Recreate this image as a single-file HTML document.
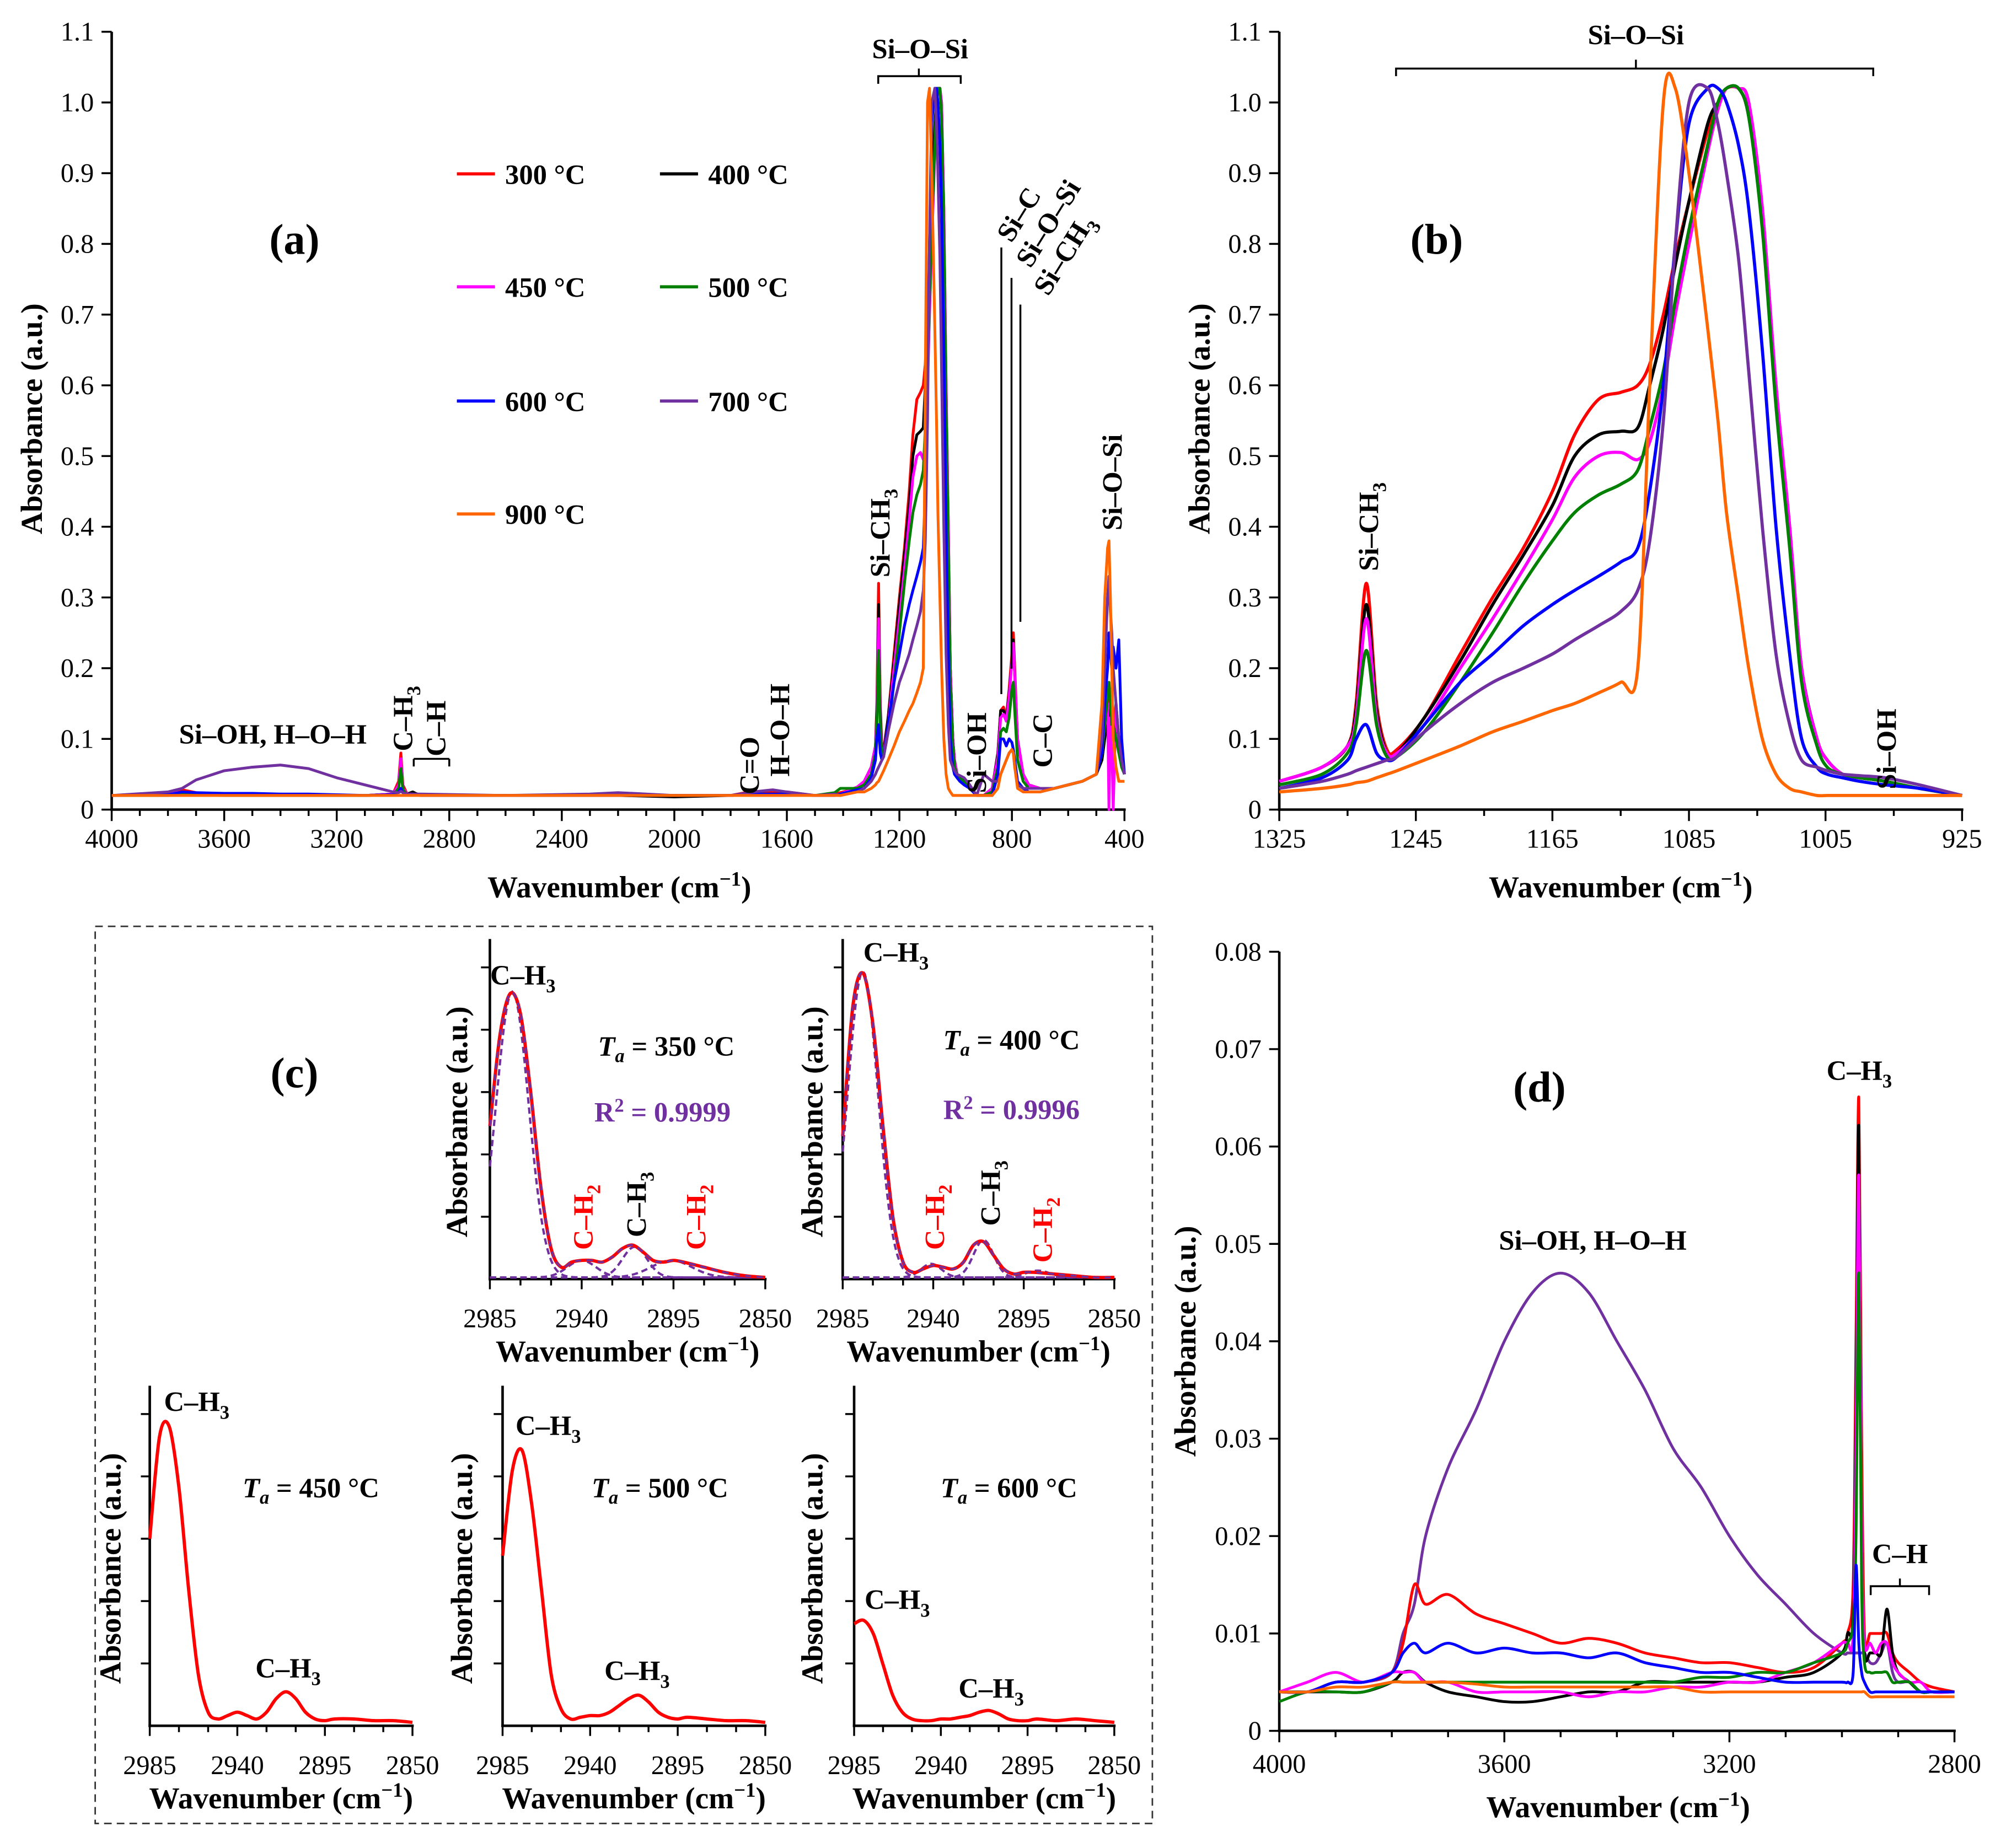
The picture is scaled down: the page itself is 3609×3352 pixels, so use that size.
<!DOCTYPE html>
<html><head><meta charset="utf-8"><style>
html,body{margin:0;padding:0;background:#fff}
svg{display:block}
text{font-family:"Liberation Serif",serif;fill:#000}
.b{font-weight:bold}
.tk{font-size:21px}
.tt{font-size:24px;font-weight:bold}
.an{font-size:22px;font-weight:bold}
</style></head><body>
<svg id="fig" xmlns="http://www.w3.org/2000/svg" width="3609" height="3352" viewBox="0 0 1568 1456.3">
<rect x="0" y="0" width="1568" height="1457" fill="#fff"/>
<g id="axes"></g>
<g id="marks"></g>
<g id="labels">
<text class="tt" x="488" y="707" text-anchor="middle">Wavenumber (cm<tspan dy="-9" font-size="16">−1</tspan><tspan dy="9">)</tspan></text>
<text class="tt" transform="translate(33,330) rotate(-90)" text-anchor="middle">Absorbance (a.u.)</text>
<text x="232" y="200" font-size="34" class="b" text-anchor="middle">(a)</text>
<text class="an" x="725" y="46" text-anchor="middle">Si–O–Si</text>
<path d="M692,66 V60 H757 V66 M724,60 V54" fill="none" stroke="#000" stroke-width="1.5"/>
<text class="an" x="215" y="586" text-anchor="middle">Si–OH, H–O–H</text>
<text class="an" transform="translate(325,592) rotate(-90)">C–H<tspan dy="6" font-size="15">3</tspan></text>
<text class="an" transform="translate(351,596) rotate(-90)">C–H</text>
<path d="M326,598 H354 M326,598 V604 M354,598 V604" fill="none" stroke="#000" stroke-width="1.5"/>
<text class="an" transform="translate(598,626) rotate(-90)">C=O</text>
<text class="an" transform="translate(622,612) rotate(-90)">H–O–H</text>
<text class="an" transform="translate(701,455) rotate(-90)">Si–CH<tspan dy="6" font-size="15">3</tspan></text>
<text class="an" transform="translate(777,625) rotate(-90)">Si–OH</text>
<text class="an" transform="translate(829,605) rotate(-90)">C–C</text>
<text class="an" transform="translate(884,418) rotate(-90)">Si–O–Si</text>
<text class="an" transform="translate(797,192) rotate(-58)">Si–C</text>
<text class="an" transform="translate(812,212) rotate(-58)">Si–O–Si</text>
<text class="an" transform="translate(826,234) rotate(-58)">Si–CH<tspan dy="6" font-size="15">3</tspan></text>
<path d="M789,195 V547 M797,219 V527 M804,240 V490" stroke="#000" stroke-width="1.5"/>
<text class="tt" x="1277" y="707" text-anchor="middle">Wavenumber (cm<tspan dy="-9" font-size="16">−1</tspan><tspan dy="9">)</tspan></text>
<text class="tt" transform="translate(953,330) rotate(-90)" text-anchor="middle">Absorbance (a.u.)</text>
<text x="1132" y="200" font-size="34" class="b" text-anchor="middle">(b)</text>
<text class="an" x="1289" y="35" text-anchor="middle">Si–O–Si</text>
<path d="M1100,60 V54 H1476 V60 M1289,54 V47" fill="none" stroke="#000" stroke-width="1.5"/>
<text class="an" transform="translate(1086,450) rotate(-90)">Si–CH<tspan dy="6" font-size="15">3</tspan></text>
<text class="an" transform="translate(1494,622) rotate(-90)">Si–OH</text>
<rect x="75" y="730" width="833" height="707" fill="none" stroke="#333" stroke-width="1.2" stroke-dasharray="6,4"/>
<text x="232" y="857" font-size="34" class="b" text-anchor="middle">(c)</text>
<text class="an" x="525" y="832" text-anchor="middle"><tspan font-style="italic">T</tspan><tspan dy="5" font-size="15" font-style="italic">a</tspan><tspan dy="-5"> = 350 °C</tspan></text>
<text class="an" x="522" y="884" text-anchor="middle" style="fill:#7030a0">R<tspan dy="-8" font-size="15">2</tspan><tspan dy="8"> = 0.9999</tspan></text>
<text class="an" x="797" y="827" text-anchor="middle"><tspan font-style="italic">T</tspan><tspan dy="5" font-size="15" font-style="italic">a</tspan><tspan dy="-5"> = 400 °C</tspan></text>
<text class="an" x="797" y="882" text-anchor="middle" style="fill:#7030a0">R<tspan dy="-8" font-size="15">2</tspan><tspan dy="8"> = 0.9996</tspan></text>
<text class="an" x="412" y="776" text-anchor="middle">C–H<tspan dy="6" font-size="15">3</tspan></text>
<text class="an" x="706" y="758" text-anchor="middle">C–H<tspan dy="6" font-size="15">3</tspan></text>
<text class="an" transform="translate(467,985) rotate(-90)" style="fill:#ff0000">C–H<tspan dy="6" font-size="15" style="fill:#ff0000">2</tspan></text>
<text class="an" transform="translate(509,975) rotate(-90)">C–H<tspan dy="6" font-size="15">3</tspan></text>
<text class="an" transform="translate(556,985) rotate(-90)" style="fill:#ff0000">C–H<tspan dy="6" font-size="15" style="fill:#ff0000">2</tspan></text>
<text class="an" transform="translate(744,985) rotate(-90)" style="fill:#ff0000">C–H<tspan dy="6" font-size="15" style="fill:#ff0000">2</tspan></text>
<text class="an" transform="translate(788,966) rotate(-90)">C–H<tspan dy="6" font-size="15">3</tspan></text>
<text class="an" transform="translate(829,995) rotate(-90)" style="fill:#ff0000">C–H<tspan dy="6" font-size="15" style="fill:#ff0000">2</tspan></text>
<text class="an" x="155" y="1112" text-anchor="middle">C–H<tspan dy="6" font-size="15">3</tspan></text>
<text class="an" x="245" y="1180" text-anchor="middle"><tspan font-style="italic">T</tspan><tspan dy="5" font-size="15" font-style="italic">a</tspan><tspan dy="-5"> = 450 °C</tspan></text>
<text class="an" x="227" y="1322" text-anchor="middle">C–H<tspan dy="6" font-size="15">3</tspan></text>
<text class="an" x="432" y="1131" text-anchor="middle">C–H<tspan dy="6" font-size="15">3</tspan></text>
<text class="an" x="520" y="1180" text-anchor="middle"><tspan font-style="italic">T</tspan><tspan dy="5" font-size="15" font-style="italic">a</tspan><tspan dy="-5"> = 500 °C</tspan></text>
<text class="an" x="502" y="1324" text-anchor="middle">C–H<tspan dy="6" font-size="15">3</tspan></text>
<text class="an" x="707" y="1268" text-anchor="middle">C–H<tspan dy="6" font-size="15">3</tspan></text>
<text class="an" x="795" y="1180" text-anchor="middle"><tspan font-style="italic">T</tspan><tspan dy="5" font-size="15" font-style="italic">a</tspan><tspan dy="-5"> = 600 °C</tspan></text>
<text class="an" x="781" y="1338" text-anchor="middle">C–H<tspan dy="6" font-size="15">3</tspan></text>
<text class="tt" x="1275" y="1432" text-anchor="middle">Wavenumber (cm<tspan dy="-9" font-size="16">−1</tspan><tspan dy="9">)</tspan></text>
<text class="tt" transform="translate(942,1057) rotate(-90)" text-anchor="middle">Absorbance (a.u.)</text>
<text x="1213" y="868" font-size="34" class="b" text-anchor="middle">(d)</text>
<text class="an" x="1465" y="851" text-anchor="middle">C–H<tspan dy="6" font-size="15">3</tspan></text>
<text class="an" x="1255" y="985" text-anchor="middle">Si–OH, H–O–H</text>
<text class="an" x="1497" y="1232" text-anchor="middle">C–H</text>
<path d="M1474,1257 V1250 H1520 V1257 M1497,1250 V1244" fill="none" stroke="#000" stroke-width="1.5"/>
</g>
<g id="legend"></g>
</svg>
<script>
const seriesNames = ["300 °C","400 °C","450 °C","500 °C","600 °C","700 °C","900 °C"];
const seriesColors = ["#ff0000","#000000","#ff00ff","#008000","#0000ff","#7030a0","#ff6600"];

const lowWn = [4000,3800,3750,3700,3600,3500,3400,3300,3200,3100,3000,2980,2972,2965,2950,2930,2920,2900,2600,2300,2200,2000,1800,1720,1650,1600,1500,1430,1410,1350];
const lowRed = [.02,.022,.028,.024,.022,.021,.02,.02,.02,.02,.022,.04,.08,.035,.022,.025,.023,.02,.02,.02,.02,.02,.02,.026,.024,.025,.02,.022,.024,.03];
const lowBlack = [.02,.021,.024,.022,.021,.02,.02,.02,.02,.02,.022,.035,.07,.03,.022,.025,.023,.02,.02,.02,.02,.018,.02,.022,.022,.022,.02,.02,.022,.03];
const lowMagenta = [.02,.022,.025,.022,.021,.02,.02,.02,.02,.02,.022,.035,.072,.03,.022,.022,.021,.02,.02,.02,.02,.02,.02,.022,.022,.022,.02,.02,.022,.032];
const lowGreen = [.02,.02,.022,.021,.02,.02,.02,.02,.02,.02,.021,.03,.058,.028,.021,.021,.021,.02,.02,.02,.02,.02,.02,.022,.022,.022,.02,.024,.03,.03];
const lowBlue = [.02,.021,.025,.024,.023,.023,.022,.022,.021,.02,.021,.025,.03,.024,.021,.021,.021,.02,.02,.02,.02,.02,.02,.022,.022,.022,.02,.02,.022,.028];
const lowPurple = [.02,.025,.03,.042,.055,.06,.063,.058,.045,.035,.025,.024,.026,.024,.022,.022,.022,.022,.02,.022,.024,.02,.02,.025,.028,.025,.02,.022,.02,.025];
const lowOrange = [.02,.02,.02,.02,.02,.02,.02,.02,.02,.02,.02,.02,.02,.02,.02,.02,.02,.02,.02,.02,.02,.02,.02,.02,.02,.02,.02,.02,.02,.025];

const bWn = [1325,1300,1285,1280,1274,1268,1262,1256,1240,1219,1200,1182,1165,1152,1138,1125,1115,1108,1100,1093,1085,1074,1068,1063,1056,1050,1042,1034,1026,1019,1010,1004,995,985,970,950,925];
const bRed = [.04,.06,.09,.15,.32,.15,.085,.085,.13,.22,.3,.37,.45,.53,.58,.59,.6,.63,.7,.78,.86,.96,1.0,1.02,1.02,1.0,.85,.6,.4,.2,.1,.07,.05,.045,.04,.03,.02];
const bBlack = [.04,.06,.09,.14,.29,.14,.08,.08,.13,.21,.29,.36,.43,.5,.53,.535,.54,.6,.68,.77,.86,.97,1.0,1.02,1.02,.98,.83,.58,.38,.2,.1,.07,.05,.045,.04,.03,.02];
const bMagenta = [.04,.06,.09,.13,.27,.13,.08,.08,.12,.2,.27,.34,.41,.47,.5,.505,.495,.52,.6,.7,.8,.93,.99,1.02,1.02,1.0,.85,.6,.4,.2,.1,.07,.05,.045,.04,.03,.02];
const bGreen = [.035,.05,.08,.12,.225,.12,.075,.075,.11,.18,.25,.32,.38,.42,.445,.46,.48,.54,.62,.72,.82,.94,1.0,1.02,1.02,.98,.82,.57,.37,.18,.09,.06,.05,.045,.04,.03,.02];
const bBlue = [.03,.045,.07,.1,.12,.08,.07,.075,.12,.18,.22,.26,.29,.31,.33,.35,.37,.45,.6,.8,.97,1.02,1.02,1.0,.94,.85,.65,.4,.22,.1,.06,.05,.045,.04,.035,.03,.02];
const bPurple = [.03,.04,.05,.055,.06,.065,.07,.075,.11,.15,.18,.2,.22,.24,.26,.28,.31,.38,.55,.8,1.0,1.02,.97,.9,.78,.62,.4,.22,.12,.07,.06,.055,.05,.048,.045,.035,.02];
const bOrange = [.025,.03,.035,.038,.04,.045,.05,.055,.07,.09,.11,.125,.14,.15,.165,.18,.2,.6,1.0,1.02,.9,.68,.55,.42,.3,.2,.1,.05,.03,.025,.02,.02,.02,.02,.02,.02,.02];

const highWn = [900,870,850,840,830,820,810,800,795,790,780,760,740,700,650,600,550,500,480,470,460,455,450,445,440,430,420,410,400];
const highRed = [.02,.03,.08,.14,.145,.13,.17,.22,.25,.2,.1,.05,.035,.03,.03,.035,.04,.05,.08,.12,.15,.16,.13,.1,.12,.15,.1,.08,.05];
const highBlack = [.02,.03,.08,.14,.14,.13,.165,.21,.24,.19,.1,.05,.035,.03,.03,.035,.04,.05,.07,.1,.13,.14,.12,.1,.11,.13,.1,.08,.05];
const highMagenta = [.02,.03,.075,.13,.135,.125,.16,.21,.235,.19,.1,.05,.035,.03,.03,.035,.04,.05,.08,.12,.15,0,.13,.1,0,.15,.1,.08,.05];
const highGreen = [.02,.025,.06,.11,.115,.11,.13,.17,.18,.14,.07,.04,.03,.03,.03,.035,.04,.05,.08,.12,.16,.18,.15,.12,.12,.1,.08,.06,.05];
const highBlue = [.02,.02,.05,.1,.1,.09,.1,.095,.085,.07,.04,.03,.025,.025,.03,.035,.04,.05,.08,.15,.2,.25,.22,.2,.23,.2,.24,.1,.05];
const highPurple = [.05,.04,.04,.05,.06,.07,.08,.085,.08,.06,.035,.03,.03,.03,.03,.035,.04,.05,.1,.2,.3,.33,.28,.25,.2,.15,.1,.07,.05];
const highOrange = [.02,.02,.03,.05,.06,.07,.08,.085,.08,.06,.03,.025,.025,.025,.03,.035,.04,.05,.15,.3,.37,.38,.3,.2,.1,.06,.04,.04,.04];

const cWn = [2985,2980,2975,2970,2965,2960,2955,2950,2945,2940,2935,2930,2925,2920,2915,2910,2905,2900,2895,2890,2880,2870,2860,2850];
const c350 = [.45,.72,.84,.78,.55,.27,.09,.035,.05,.055,.055,.05,.065,.09,.1,.08,.055,.05,.055,.05,.035,.02,.01,.005];
const c400 = [.42,.8,.9,.75,.45,.18,.05,.02,.03,.04,.035,.03,.05,.1,.11,.07,.03,.015,.02,.02,.015,.01,.005,.005];
const c450 = [.55,.85,.88,.7,.4,.15,.04,.02,.03,.04,.03,.02,.04,.08,.1,.08,.04,.02,.015,.02,.02,.015,.015,.01];
const c500 = [.5,.75,.81,.65,.4,.15,.05,.02,.025,.03,.03,.04,.06,.08,.09,.07,.04,.025,.02,.025,.02,.015,.015,.01];
const c600 = [.3,.31,.27,.18,.09,.04,.02,.015,.015,.02,.02,.025,.03,.04,.045,.035,.02,.015,.015,.02,.015,.02,.015,.01];
const fit350Centers = [2974,2940,2914,2896];
const fit350Amps = [.84,.05,.09,.05];
const fit350Widths = [8,7,6,10];
const fit400Centers = [2975,2941,2915,2888];
const fit400Amps = [.9,.04,.11,.02];
const fit400Widths = [7.5,5,5,6];

const dWn = [4000,3950,3900,3850,3800,3780,3760,3740,3700,3650,3600,3550,3500,3450,3400,3350,3300,3250,3200,3150,3100,3050,3000,2990,2980,2975,2970,2965,2960,2950,2940,2930,2920,2910,2900,2880,2860,2840,2800];
const dRed = [.004,.004,.005,.005,.006,.009,.015,.013,.014,.012,.011,.01,.009,.0095,.009,.008,.0075,.007,.007,.0065,.006,.0065,.009,.01,.015,.04,.065,.03,.01,.01,.01,.01,.01,.008,.007,.006,.005,.0045,.004];
const dBlack = [.004,.004,.004,.004,.005,.006,.006,.005,.004,.0035,.003,.003,.0035,.004,.004,.005,.005,.005,.005,.005,.0055,.006,.008,.01,.012,.035,.062,.02,.008,.008,.008,.008,.0125,.008,.006,.005,.004,.004,.004];
const dMagenta = [.004,.005,.006,.005,.006,.006,.006,.005,.005,.004,.004,.004,.004,.0035,.004,.004,.0045,.0045,.005,.005,.006,.007,.009,.009,.01,.03,.057,.02,.009,.009,.008,.009,.009,.007,.006,.005,.005,.004,.004];
const dGreen = [.003,.004,.004,.004,.005,.005,.005,.005,.005,.005,.005,.005,.005,.005,.005,.005,.005,.0055,.0055,.006,.006,.007,.008,.009,.011,.02,.047,.015,.007,.006,.006,.006,.006,.005,.005,.005,.004,.004,.004];
const dBlue = [.004,.004,.005,.005,.006,.008,.009,.008,.009,.008,.0085,.008,.008,.0075,.008,.007,.0065,.006,.006,.0055,.005,.005,.005,.005,.006,.017,.009,.006,.005,.004,.004,.004,.004,.004,.004,.004,.004,.004,.004];
const dPurple = [.004,.004,.005,.005,.006,.01,.013,.02,.027,.033,.04,.045,.047,.045,.04,.035,.029,.025,.02,.016,.013,.01,.008,.008,.008,.008,.008,.008,.008,.007,.007,.008,.009,.006,.005,.005,.004,.004,.004];
const dOrange = [.004,.004,.0045,.0045,.005,.005,.005,.005,.005,.0048,.0045,.0045,.0045,.0045,.0045,.0045,.0045,.004,.004,.004,.004,.004,.004,.004,.004,.004,.004,.004,.004,.0035,.0035,.0035,.0035,.0035,.0035,.0035,.0035,.0035,.0035];

const aTicksY = ["0","0.1","0.2","0.3","0.4","0.5","0.6","0.7","0.8","0.9","1.0","1.1"];
const aTicksX = ["4000","3600","3200","2800","2400","2000","1600","1200","800","400"];
const bTicksX = ["1325","1245","1165","1085","1005","925"];
const cTicksX = ["2985","2940","2895","2850"];
const dTicksY = ["0","0.01","0.02","0.03","0.04","0.05","0.06","0.07","0.08"];
const dTicksX = ["4000","3600","3200","2800"];

const NS = "http://www.w3.org/2000/svg";
const axG = document.getElementById('axes');
const mkG = document.getElementById('marks');
const lgG = document.getElementById('legend');
const ax = w => 88 + (4000 - w) / 3600 * 798;
const ay = v => 638 - v / 1.1 * 613;
const bx = w => 1008 + (1325 - w) / 400 * 538;
const by = ay;
const dx = w => 1008 + (4000 - w) / 1200 * 532;
const dy = v => 1364 - v / 0.08 * 614;
const cPanels = [
  {x0:386,x1:603,yb:1008,yt:740},
  {x0:664,x1:878,yb:1008,yt:740},
  {x0:118,x1:325,yb:1360,yt:1092},
  {x0:396,x1:603,yb:1360,yt:1092},
  {x0:673,x1:878,yb:1360,yt:1092}
];
const cxF = p => w => p.x0 + (2985 - w) / 135 * (p.x1 - p.x0);
const cyF = p => v => p.yb - v * (p.yb - p.yt);

function el(tag, attrs, parent) {
  const e = document.createElementNS(NS, tag);
  for (const k in attrs) e.setAttribute(k, attrs[k]);
  parent.appendChild(e);
  return e;
}
function pathD(xs, ys, fx, fy) {
  let d = "";
  for (let i = 0; i < xs.length; i++) d += (i ? "L" : "M") + fx(xs[i]).toFixed(2) + "," + fy(ys[i]).toFixed(2);
  return d;
}
function smoothD(xs, ys, fx, fy) {
  const P = xs.map((x,i)=>[fx(x), fy(ys[i])]);
  let d = "M" + P[0][0].toFixed(2) + "," + P[0][1].toFixed(2);
  for (let i = 0; i < P.length - 1; i++) {
    const p0 = P[Math.max(0,i-1)], p1 = P[i], p2 = P[i+1], p3 = P[Math.min(P.length-1,i+2)];
    const t = 0.16;
    const c1 = [p1[0] + (p2[0]-p0[0])*t, p1[1] + (p2[1]-p0[1])*t];
    const c2 = [p2[0] - (p3[0]-p1[0])*t, p2[1] - (p3[1]-p1[1])*t];
    d += "C" + c1[0].toFixed(2)+","+c1[1].toFixed(2)+" "+c2[0].toFixed(2)+","+c2[1].toFixed(2)+" "+p2[0].toFixed(2)+","+p2[1].toFixed(2);
  }
  return d;
}
function line(x1,y1,x2,y2,w,parent){ return el('line',{x1:x1,y1:y1,x2:x2,y2:y2,stroke:'#000','stroke-width':w},parent||axG); }
function txt(s,x,y,anchor,cls){ const t=el('text',{x:x,y:y,'text-anchor':anchor,'class':cls},axG); t.textContent=s; return t; }

line(88,25,88,639,2); line(87,638,887,638,2);
aTicksY.forEach((s,i)=>{ const y=ay(i*0.1); const l=line(80,y,88,y,1.5);
   
  const t=txt(s,74,y+7,'end','tk');   });
for (let w=4000; w>=400; w-=100){ const x=ax(w); const maj=(w%400===0); line(x,638,x,638+(maj?9:5),1.5); }
aTicksX.forEach(s=>{ const t=txt(s,ax(+s),668,'middle','tk');   });
line(1008,25,1008,639,2); line(1007,638,1547,638,2);
aTicksY.forEach((s,i)=>{ const y=by(i*0.1); line(1000,y,1008,y,1.5);
  const t=txt(s,994,y+7,'end','tk');   });
for (let w=1325; w>=925; w-=40){ const x=bx(w); const maj=((1325-w)%80===0); line(x,638,x,638+(maj?9:5),1.5); }
bTicksX.forEach(s=>{ const t=txt(s,bx(+s),668,'middle','tk');   });
const cTitleX = [368,648,95,372,648];
cPanels.forEach((p,k)=>{
  line(p.x0,p.yt,p.x0,p.yb+1,2); line(p.x0-1,p.yb,p.x1+1,p.yb,2);
  for (let j=1;j<=5;j++){ const y=p.yb-j*(p.yb-p.yt)/6*1.1; line(p.x0-7,y,p.x0,y,1.5); }
  for (let w=2985; w>=2850; w-=15){ const x=cxF(p)(w); const maj=((2985-w)%45===0); line(x,p.yb,x,p.yb+(maj?8:5),1.5); }
  cTicksX.forEach(s=>{ const t=txt(s,cxF(p)(+s),p.yb+38,'middle','tk');   });
  const tt=el('text',{x:(p.x0+p.x1)/2,y:p.yb+65,'text-anchor':'middle','class':'tt'},axG);
   
  tt.innerHTML='Wavenumber (cm<tspan dy="-9" font-size="16">−1</tspan><tspan dy="9">)</tspan>';
  const yt=el('text',{transform:'translate('+cTitleX[k]+','+((p.yb+p.yt)/2+10)+') rotate(-90)','text-anchor':'middle','class':'tt'},axG);
   
  yt.textContent='Absorbance (a.u.)';
});
line(1008,750,1008,1365,2); line(1007,1364,1541,1364,2);
dTicksY.forEach((s,i)=>{ const y=dy(i*0.01); line(1000,y,1008,y,1.5);
  const t=txt(s,994,y+7,'end','tk');   });
for (let w=4000; w>=2800; w-=100){ const x=dx(w); const maj=(w%400===0); line(x,1364,x,1364+(maj?9:5),1.5); }
dTicksX.forEach(s=>{ const t=txt(s,dx(+s),1397,'middle','tk');   });

const aLow = [lowRed,lowBlack,lowMagenta,lowGreen,lowBlue,lowPurple,lowOrange];
const aMid = [bRed,bBlack,bMagenta,bGreen,bBlue,bPurple,bOrange];
const aHigh = [highRed,highBlack,highMagenta,highGreen,highBlue,highPurple,highOrange];
const aWn = lowWn.concat(bWn, highWn);
for (let i=0;i<7;i++){
  const ys = aLow[i].concat(aMid[i], aHigh[i]);
  const p = el('path',{d:pathD(aWn,ys,ax,ay),fill:'none',stroke:seriesColors[i],'stroke-width':2.2,'stroke-linejoin':'round'},mkG);
  
  
}
for (let i=0;i<7;i++){
  const p = el('path',{d:smoothD(bWn,aMid[i],bx,by),fill:'none',stroke:seriesColors[i],'stroke-width':2.5,'stroke-linejoin':'round'},mkG);
  
  
}
const dSeries = [dRed,dBlack,dMagenta,dGreen,dBlue,dPurple,dOrange];
const dOrder = [5,0,1,2,3,4,6];
dOrder.forEach(i=>{
  const p = el('path',{d:smoothD(dWn,dSeries[i],dx,dy),fill:'none',stroke:seriesColors[i],'stroke-width':2.2,'stroke-linejoin':'round'},mkG);
  
  
});
const cData = [c350,c400,c450,c500,c600];
const fits = [[fit350Centers,fit350Amps,fit350Widths],[fit400Centers,fit400Amps,fit400Widths]];
cData.forEach((ys,k)=>{
  const p=cPanels[k], fx=cxF(p), fy=cyF(p);
  if (k<2){
    const [cs,as,ws]=fits[k];
    const fine=[]; for(let w=2985; w>=2850; w-=1) fine.push(w);
    cs.forEach((c,j)=>{
      const comp=fine.map(w=>as[j]*Math.exp(-0.5*Math.pow((w-c)/ws[j],2))+0.005);
      const cp=el('path',{d:pathD(fine,comp,fx,fy),fill:'none',stroke:'#7030a0','stroke-width':1.8,'stroke-dasharray':'5,3'},mkG);
      
      
    });
    const base=el('path',{d:pathD([2985,2850],[0.005,0.005],fx,fy),fill:'none',stroke:'#7030a0','stroke-width':1.8,'stroke-dasharray':'5,3'},mkG);
    
    
  }
  const sp=el('path',{d:smoothD(cWn,ys,fx,fy),fill:'none',stroke:'#ff0000','stroke-width':2.6,'stroke-linejoin':'round'},mkG);
  
  
  if (k<2){
    const ov=el('path',{d:smoothD(cWn,ys,fx,fy),fill:'none',stroke:'#7030a0','stroke-width':1.6,'stroke-dasharray':'5,4'},mkG);
    
    
  }
});

const legX = [360,520], legY = [137,226,316,405];
seriesNames.forEach((s,i)=>{
  const col=i%2, row=Math.floor(i/2);
  const g=el('g',{},lgG);
  
  
  el('line',{x1:legX[col],y1:legY[row],x2:legX[col]+30,y2:legY[row],stroke:seriesColors[i],'stroke-width':2.5},g);
  const t=el('text',{x:legX[col]+38,y:legY[row]+8,'class':'an'},g);
  t.textContent=s;
});
</script>
</body></html>
